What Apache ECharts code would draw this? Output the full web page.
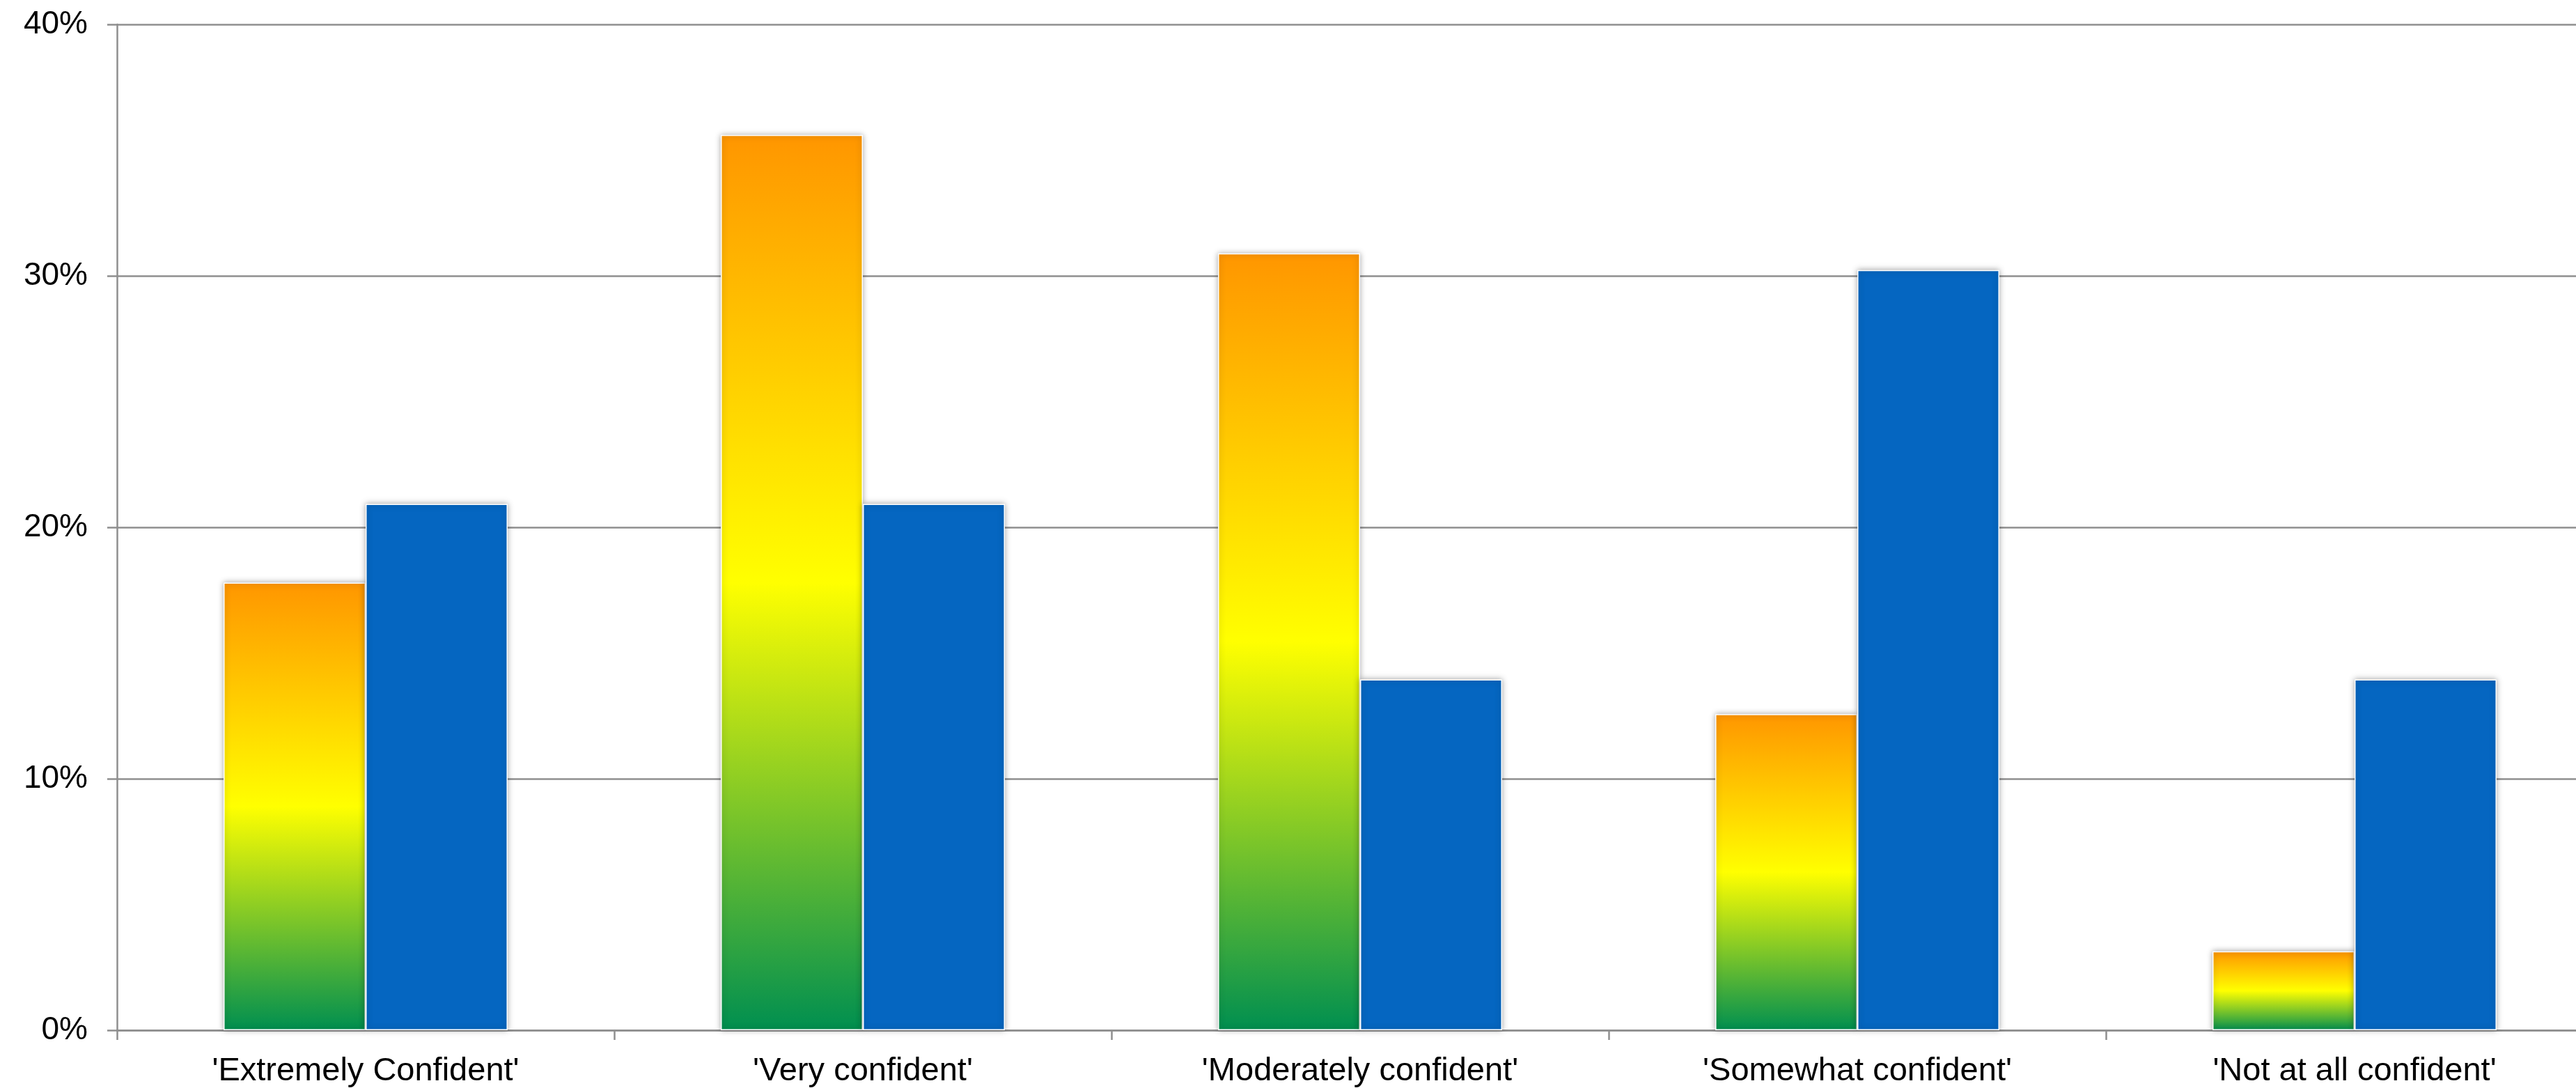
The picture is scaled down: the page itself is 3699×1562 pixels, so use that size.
<!DOCTYPE html>
<html>
<head>
<meta charset="utf-8">
<script src="https://cdn.jsdelivr.net/npm/echarts@6/dist/echarts.min.js"></script>
<style>
html,body{margin:0;padding:0;background:#fff;overflow:hidden;width:3699px;height:1562px;}
#chart{width:3738px;height:1562px;}
</style>
</head>
<body>
<div id="chart"></div>
<script>
const categories = ["'Extremely Confident'", "'Very confident'", "'Moderately confident'", "'Somewhat confident'", "'Not at all confident'"];
const seriesA = [17.80, 35.60, 30.89, 12.57, 3.14];
const seriesB = [20.93, 20.93, 13.95, 30.23, 13.95];
const yTicks = [0, 10, 20, 30, 40];

const chart = echarts.init(document.getElementById('chart'));
const gridColor = '#8f8f8f';
const font = '"Liberation Sans", Arial, sans-serif';
const shadow = {shadowBlur: 8, shadowColor: 'rgba(0,0,0,0.35)', shadowOffsetX: 0, shadowOffsetY: 0};

chart.setOption({
  animation: false,
  backgroundColor: '#ffffff',
  grid: {left: 168, right: 0, top: 35, bottom: 83, containLabel: false},
  xAxis: {
    type: 'category',
    data: categories,
    axisLine: {show: true, lineStyle: {color: gridColor, width: 2.5}},
    axisTick: {show: true, length: 14, lineStyle: {color: gridColor, width: 2.5}},
    axisLabel: {color: '#000', fontSize: 47, fontFamily: font, margin: 36, interval: 0}
  },
  yAxis: {
    type: 'value',
    min: yTicks[0],
    max: yTicks[yTicks.length - 1],
    interval: 10,
    axisLine: {show: true, lineStyle: {color: gridColor, width: 2.5}},
    axisTick: {show: true, length: 14, lineStyle: {color: gridColor, width: 2.5}},
    splitLine: {show: true, lineStyle: {color: gridColor, width: 2.5}},
    axisLabel: {color: '#000', fontSize: 46, fontFamily: font, margin: 42, formatter: '{value}%'}
  },
  series: [
    {
      type: 'bar',
      data: seriesA,
      barGap: '0%',
      barCategoryGap: '42.86%',
      itemStyle: Object.assign({
        color: new echarts.graphic.LinearGradient(0, 0, 0, 1, [
          {offset: 0, color: '#FF9600'},
          {offset: 0.5, color: '#FFFF00'},
          {offset: 1, color: '#008F50'}
        ]),
        borderColor: '#ffffff',
        borderWidth: 1.5
      }, shadow)
    },
    {
      type: 'bar',
      data: seriesB,
      barGap: '0%',
      barCategoryGap: '42.86%',
      itemStyle: Object.assign({
        color: '#0566C1',
        borderColor: '#ffffff',
        borderWidth: 1.5
      }, shadow)
    }
  ]
});
</script>
</body>
</html>
